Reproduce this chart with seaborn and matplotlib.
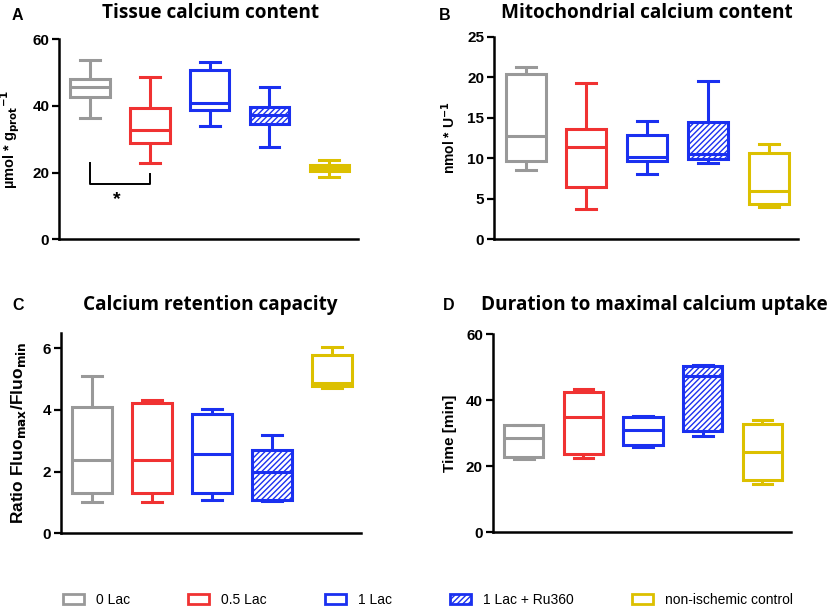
import matplotlib
matplotlib.use("Agg")
import matplotlib.pyplot as plt
from matplotlib.patches import Patch
import seaborn as sns
import pandas as pd

groups = ["0 Lac", "0.5 Lac", "1 Lac", "1 Lac + Ru360", "non-ischemic control"]
colors = ["#999999", "#f03232", "#1a30f0", "#1a30f0", "#dcc000"]
hatched = [False, False, False, True, False]

# five-number summaries per group: [min, q1, median, q3, max]
tissue_ca = [
    [36.4, 42.6, 45.8, 48.1, 53.8],
    [22.8, 29.0, 32.9, 39.3, 48.6],
    [34.0, 38.8, 40.8, 50.8, 53.2],
    [27.7, 34.6, 37.2, 39.8, 45.8],
    [18.8, 20.5, 21.3, 22.4, 23.8],
]
mito_ca = [
    [8.5, 9.7, 12.8, 20.4, 21.3],
    [3.8, 6.5, 11.4, 13.6, 19.3],
    [8.1, 9.7, 10.2, 12.9, 14.6],
    [9.4, 9.9, 10.5, 14.5, 19.5],
    [4.0, 4.4, 6.0, 10.6, 11.8],
]
crc = [
    [1.0, 1.3, 2.38, 4.1, 5.1],
    [1.03, 1.32, 2.38, 4.22, 4.32],
    [1.09, 1.3, 2.57, 3.85, 4.04],
    [1.04, 1.08, 1.98, 2.7, 3.17],
    [4.72, 4.76, 4.86, 5.77, 6.03],
]
duration = [
    [22.2, 22.7, 28.4, 32.4, 32.4],
    [22.4, 23.8, 34.9, 42.4, 43.5],
    [25.7, 26.5, 31.1, 34.9, 35.3],
    [29.1, 30.5, 47.3, 50.4, 50.6],
    [14.5, 15.8, 24.4, 32.7, 34.1],
]

titles = ["Tissue calcium content", "Mitochondrial calcium content",
          "Calcium retention capacity", "Duration to maximal calcium uptake"]
letters = ["A", "B", "C", "D"]
ylabels = [r"µmol * g$_{\mathbf{prot}}$$^{\mathbf{-1}}$", r"nmol * U$^{\mathbf{-1}}$",
           r"Ratio Fluo$_{\mathbf{max}}$/Fluo$_{\mathbf{min}}$", "Time [min]"]
ylims = [60, 25, 6.5, 60]
yticks = [[0, 20, 40, 60], [0, 5, 10, 15, 20, 25], [0, 2, 4, 6], [0, 20, 40, 60]]
datasets = [tissue_ca, mito_ca, crc, duration]

W, H = 829, 609
fig = plt.figure(figsize=(W / 100, H / 100), dpi=100)
plt.rcParams["hatch.linewidth"] = 1.0

# axes boxes in pixels: left, right, top, bottom
boxes_px = [(59, 358, 39.3, 239.3), (494, 798, 36.7, 239.3),
            (61, 361, 332.7, 533.3), (492.7, 791, 334, 532.3)]
label_x = [-0.123, -0.118, -0.11, -0.12]
label_fs = [10.5, 10, 12.5, 11]
title_pos = [(211, 13), (647, 13), (210, 305), (654, 305)]
letter_pos = [(17, 15), (445, 15), (18, 305), (449, 305)]

for k in range(4):
    l, r, t, b = boxes_px[k]
    ax = fig.add_axes([l / W, 1 - b / H, (r - l) / W, (b - t) / H])
    rows = []
    for g, vals in zip(groups, datasets[k]):
        for v in vals:
            rows.append({"group": g, "value": v})
    df = pd.DataFrame(rows)
    for i, g in enumerate(groups):
        sub = df[df["group"] == g]
        sns.boxplot(data=sub, x="group", y="value", order=groups, ax=ax,
                    fill=True, color="white", linecolor=colors[i], linewidth=2.2,
                    whis=(0, 100), width=0.66, showfliers=False)
    for i, p in enumerate(ax.patches):
        p.set_facecolor("white")
        p.set_edgecolor(colors[i])
        if hatched[i]:
            p.set_hatch("//////")
    ax.set_xlim(-0.52, 4.48)
    ax.set_ylim(0, ylims[k])
    ax.set_yticks(yticks[k])
    ax.set_xticks([])
    ax.set_xlabel("")
    ax.set_ylabel(ylabels[k], fontsize=label_fs[k], fontweight="bold",
                  family="Liberation Sans")
    ax.yaxis.set_label_coords(label_x[k], 0.5)
    for lab in ax.get_yticklabels():
        lab.set_fontweight("bold")
        lab.set_family("Liberation Sans")
        lab.set_fontsize(11)
    ax.tick_params(axis="y", width=1.6, length=5, pad=2)
    for s in ["top", "right"]:
        ax.spines[s].set_visible(False)
    for s in ["left", "bottom"]:
        ax.spines[s].set_linewidth(1.8)
        ax.spines[s].set_color("black")
    ax.set_facecolor("white")
    ax.grid(False)
    tx, ty = title_pos[k]
    fig.text(tx / W, 1 - ty / H, titles[k], ha="center", va="center",
             fontsize=13.7, fontweight="bold", family="Open Sans")
    lx, ly = letter_pos[k]
    fig.text(lx / W, 1 - ly / H, letters[k], ha="center", va="center",
             fontsize=11.5, fontweight="bold", family="Liberation Sans")
    if k == 0:
        ax.plot([0, 0, 1, 1], [22.8, 16.6, 16.6, 19.6], color="black", lw=1.4)
        ax.text(0.45, 12.0, "*", ha="center", va="center", fontsize=14,
                fontweight="bold", family="Liberation Sans")

handles = [Patch(facecolor="white", edgecolor=c, linewidth=2,
                 hatch=("//////" if h else None))
           for c, h in zip(colors, hatched)]
fig.legend(handles, groups, loc="center", bbox_to_anchor=(428 / W, 1 - 600 / H),
           ncol=5, frameon=False, prop={"family": "Liberation Sans", "size": 10},
           handlelength=1.5, handleheight=0.7, handletextpad=0.87,
           columnspacing=4.2)

fig.savefig("out.png", dpi=100, facecolor="white")
